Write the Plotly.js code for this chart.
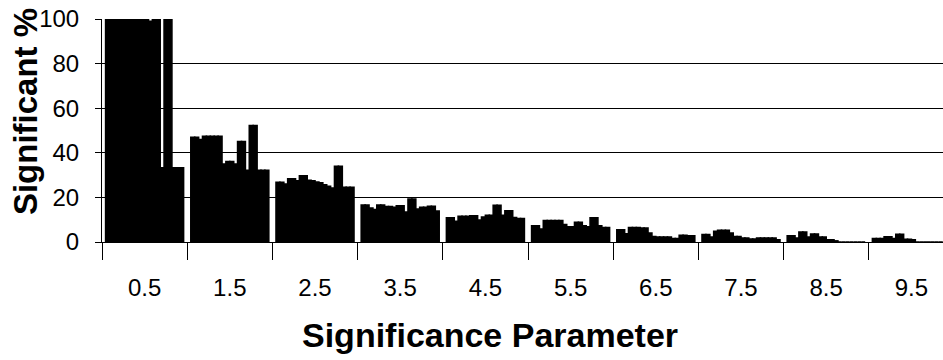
<!DOCTYPE html>
<html>
<head>
<meta charset="utf-8">
<script src="https://cdn.plot.ly/plotly-3.0.1.min.js"></script>
<style>
html,body{margin:0;padding:0;overflow:hidden;background:#fff;}
#chart{width:960px;height:360px;}
.bars path{shape-rendering:geometricPrecision !important;}
</style>
</head>
<body>
<div id="chart"></div>
<script>
const categories = ["0.5","1.5","2.5","3.5","4.5","5.5","6.5","7.5","8.5","9.5"];
const yTicks = [0,20,40,60,80,100];
const xTitle = "Significance Parameter";
const yTitle = "Significant %";

// 20 bars per category (one per series)
const g05 = [100,100,100,100,100,100,100,100,100,100,100,99,100,100,33.3,100,100,33.3,33.3,33.3];
const g15 = [46.9,46.9,45.9,47.4,47.4,47.4,47.4,47.4,35,36.1,36.1,35,45.1,45.1,32.1,52.2,52.2,32.1,32.1,32.1];
const g25 = [26.8,26.8,26,28.3,28.3,27.5,29.7,29.7,27.7,27.4,26.9,26.5,25.7,25,24.2,33.9,33.9,24.5,24.5,24.5];
const g35 = [16.6,16.6,15.2,14.5,16.6,16.6,15.9,15.9,15.6,16.2,16.2,13.4,19.3,19.3,14.8,15.6,15.6,16,16,13.9];
const g45 = [10.8,10.8,9.3,11.5,11.5,11.5,11.7,11.7,9.8,11.2,12,12,16.5,16.5,12,14,14,11,10.5,10.5];
const g55 = [7.3,7.3,5.8,9.6,9.6,9.6,9.6,9.6,7.8,6.8,6.8,8.8,8.8,7.3,6.8,10.8,10.8,7.3,6.5,6.5];
const g65 = [5.5,5.5,3.7,6.5,6.5,6.5,6.2,6.2,4,2.5,2.2,2.2,2.2,2.2,1.5,1.5,3,3,2.8,2.8];
const g75 = [3.3,3.3,2.2,4.8,5.2,5.2,5.2,4,2.5,2.5,1.8,1.8,1.3,1.3,1.8,1.8,1.8,1.8,1.8,1.0];
const g85 = [2.8,2.8,1.8,4.5,4.5,2.2,3.6,3.6,2.2,2.2,1,1,0.5,0,0,0,0,0,0,0];
const g95 = [1.5,1.5,1.5,2.3,2.3,1.5,3.5,3.5,1.2,1.2,1.0,0,0,0,0,0,0,0,0,0];

const groups = [g05,g15,g25,g35,g45,g55,g65,g75,g85,g95];
const nSeries = g05.length;

const FONT = "Liberation Sans, Arial, Helvetica, sans-serif";

const traces = [];
for (let s = 0; s < nSeries; s++) {
  traces.push({
    type: "bar",
    x: categories,
    y: groups.map(g => g[s]),
    marker: {color: "#000000", line: {color: "#000000", width: 1.6}},
    showlegend: false,
    hoverinfo: "x+y"
  });
}

const layout = {
  width: 960,
  height: 360,
  margin: {l: 102, r: 6, t: 19, b: 118, pad: 0},
  paper_bgcolor: "#ffffff",
  plot_bgcolor: "#ffffff",
  barmode: "group",
  bargap: 0.085,
  bargroupgap: 0,
  font: {family: FONT, color: "#000000", size: 24},
  xaxis: {
    type: "category",
    tickson: "boundaries",
    ticks: "outside",
    ticklen: 17,
    tickwidth: 1,
    tickcolor: "#000000",
    showline: true,
    linecolor: "#000000",
    linewidth: 1,
    showgrid: false,
    zeroline: false,
    tickfont: {family: FONT, size: 24, color: "#000000"},
    ticklabelstandoff: 24,
    automargin: false,
    fixedrange: true
  },
  yaxis: {
    range: [0, 100],
    tickvals: yTicks,
    ticks: "outside",
    ticklen: 6,
    tickwidth: 1,
    tickcolor: "#000000",
    showline: true,
    linecolor: "#000000",
    linewidth: 1,
    showgrid: true,
    gridcolor: "#000000",
    gridwidth: 1,
    zeroline: false,
    tickfont: {family: FONT, size: 24, color: "#000000"},
    ticklabelstandoff: 11,
    automargin: false,
    fixedrange: true
  },
  annotations: [
    {
      text: "<b>" + xTitle + "</b>",
      xref: "paper", yref: "paper",
      x: 0.455, y: -0.415,
      xanchor: "center", yanchor: "middle",
      showarrow: false,
      font: {family: FONT, size: 34, color: "#000000"}
    },
    {
      text: "<b>" + yTitle + "</b>",
      xref: "paper", yref: "paper",
      x: -0.09, y: 0.584,
      xanchor: "center", yanchor: "middle",
      textangle: -90,
      showarrow: false,
      font: {family: FONT, size: 33, color: "#000000"}
    }
  ]
};

Plotly.newPlot("chart", traces, layout, {displayModeBar: false, staticPlot: true});
</script>
</body>
</html>
